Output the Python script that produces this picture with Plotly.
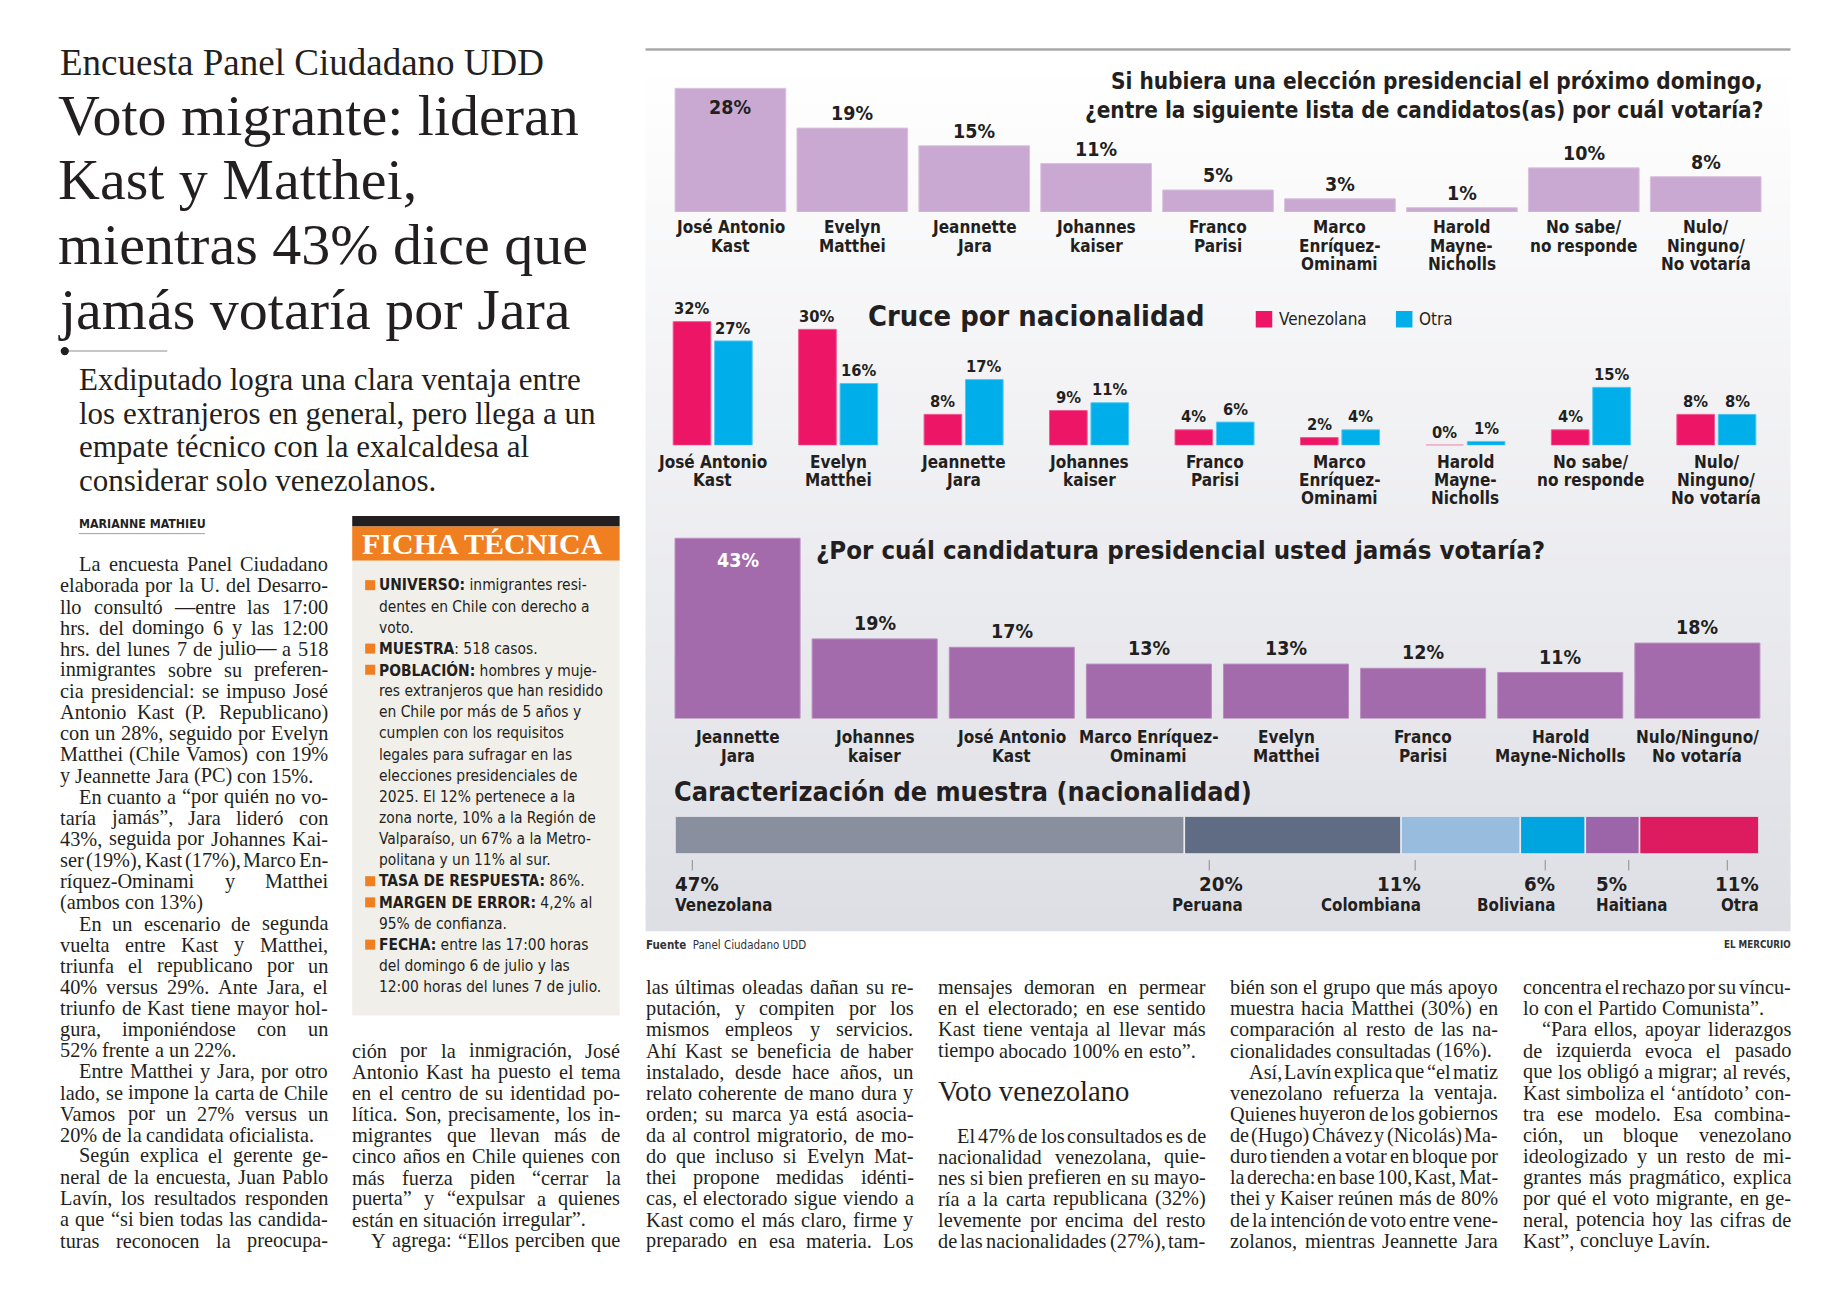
import unicodedata
import plotly.graph_objects as go
import numpy as np

W, H = 1848, 1300
S = 1.178   # reference layout measured on a 1569-wide grid
OFF = 8     # page body margin of the browser


def px(v):
    return v * S


def gx(o):
    return (o - OFF) / W


def gy(o):
    return 1 - (o - OFF) / H


def fx(v):
    return gx(px(v))


def fy(v):
    return gy(px(v))


SANS = "Liberation Sans Narrow, DejaVu Sans Condensed, Roboto Condensed, Roboto, sans-serif"
SERIF = "Liberation Serif, DejaVu Serif, serif"
INK = "#231f20"

# ---------------- data ----------------
vote_cats = ["José Antonio\nKast", "Evelyn\nMatthei", "Jeannette\nJara", "Johannes\nkaiser",
             "Franco\nParisi", "Marco\nEnríquez-\nOminami", "Harold\nMayne-\nNicholls",
             "No sabe/\nno responde", "Nulo/\nNinguno/\nNo votaría"]
vote_vals = [28, 19, 15, 11, 5, 3, 1, 10, 8]

nat_venez = [32, 30, 8, 9, 4, 2, 0, 4, 8]
nat_otra = [27, 16, 17, 11, 6, 4, 1, 15, 8]

never_cats = ["Jeannette\nJara", "Johannes\nkaiser", "José Antonio\nKast", "Marco Enríquez-\nOminami",
              "Evelyn\nMatthei", "Franco\nParisi", "Harold\nMayne-Nicholls", "Nulo/Ninguno/\nNo votaría"]
never_vals = [43, 19, 17, 13, 13, 12, 11, 18]

comp_cats = ["Venezolana", "Peruana", "Colombiana", "Boliviana", "Haitiana", "Otra"]
comp_vals = [47, 20, 11, 6, 5, 11]

# label placement for the composition bar (style, in % units of the bar axis)
comp_label_x = [0.0, 52.4, 68.8, 81.2, 85.0, 100.0]
comp_label_anchor = ["left", "right", "right", "right", "left", "right"]
comp_tick_x = [1.6, 49.3, 68.3, 80.3, 88.0, 97.1]
comp_colors = ["#8a8fa0", "#5f6c83", "#97bcdd", "#00a5df", "#9c65a9", "#dd1b5f"]

# ---------------- article text ----------------
kicker = "Encuesta Panel Ciudadano UDD"
headline = ["Voto migrante: lideran", "Kast y Matthei,", "mientras 43% dice que", "jamás votaría por Jara"]
deck = ["Exdiputado logra una clara ventaja entre", "los extranjeros en general, pero llega a un",
        "empate técnico con la exalcaldesa al", "considerar solo venezolanos."]
byline = "MARIANNE MATHIEU"

# ">" = paragraph indent, "#" = last line of paragraph (not justified)
col1 = [">La encuesta Panel Ciudadano", "elaborada por la U. del Desarro-", "llo consultó —entre las 17:00",
        "hrs. del domingo 6 y las 12:00", "hrs. del lunes 7 de julio— a 518", "inmigrantes sobre su preferen-",
        "cia presidencial: se impuso José", "Antonio Kast (P. Republicano)", "con un 28%, seguido por Evelyn",
        "Matthei (Chile Vamos) con 19%", "y Jeannette Jara (PC) con 15%.#", ">En cuanto a “por quién no vo-",
        "taría jamás”, Jara lideró con", "43%, seguida por Johannes Kai-", "ser (19%), Kast (17%), Marco En-",
        "ríquez-Ominami y Matthei", "(ambos con 13%)#", ">En un escenario de segunda",
        "vuelta entre Kast y Matthei,", "triunfa el republicano por un", "40% versus 29%. Ante Jara, el",
        "triunfo de Kast tiene mayor hol-", "gura, imponiéndose con un", "52% frente a un 22%.#",
        ">Entre Matthei y Jara, por otro", "lado, se impone la carta de Chile", "Vamos por un 27% versus un",
        "20% de la candidata oficialista.#", ">Según explica el gerente ge-", "neral de la encuesta, Juan Pablo",
        "Lavín, los resultados responden", "a que “si bien todas las candida-", "turas reconocen la preocupa-"]
col2 = ["ción por la inmigración, José", "Antonio Kast ha puesto el tema", "en el centro de su identidad po-",
        "lítica. Son, precisamente, los in-", "migrantes que llevan más de", "cinco años en Chile quienes con",
        "más fuerza piden “cerrar la", "puerta” y “expulsar a quienes", "están en situación irregular”.#",
        ">Y agrega: “Ellos perciben que"]
col3 = ["las últimas oleadas dañan su re-", "putación, y compiten por los", "mismos empleos y servicios.",
        "Ahí Kast se beneficia de haber", "instalado, desde hace años, un", "relato coherente de mano dura y",
        "orden; su marca ya está asocia-", "da al control migratorio, de mo-", "do que incluso si Evelyn Mat-",
        "thei propone medidas idénti-", "cas, el electorado sigue viendo a", "Kast como el más claro, firme y",
        "preparado en esa materia. Los"]
col4a = ["mensajes demoran en permear", "en el electorado; en ese sentido", "Kast tiene ventaja al llevar más",
         "tiempo abocado 100% en esto”.#"]
subhead4 = "Voto venezolano"
col4b = [">El 47% de los consultados es de", "nacionalidad venezolana, quie-", "nes si bien prefieren en su mayo-",
         "ría a la carta republicana (32%)", "levemente por encima del resto", "de las nacionalidades (27%), tam-"]
col5 = ["bién son el grupo que más apoyo", "muestra hacia Matthei (30%) en", "comparación al resto de las na-",
        "cionalidades consultadas (16%).#", ">Así, Lavín explica que “el matiz", "venezolano refuerza la ventaja.",
        "Quienes huyeron de los gobiernos", "de (Hugo) Chávez y (Nicolás) Ma-", "duro tienden a votar en bloque por",
        "la derecha: en base 100, Kast, Mat-", "thei y Kaiser reúnen más de 80%",
        "de la intención de voto entre vene-", "zolanos, mientras Jeannette Jara"]
col6 = ["concentra el rechazo por su víncu-", "lo con el Partido Comunista”.#", ">“Para ellos, apoyar liderazgos",
        "de izquierda evoca el pasado", "que los obligó a migrar; al revés,", "Kast simboliza el ‘antídoto’ con-",
        "tra ese modelo. Esa combina-", "ción, un bloque venezolano", "ideologizado y un resto de mi-",
        "grantes más pragmático, explica", "por qué el voto migrante, en ge-", "neral, potencia hoy las cifras de",
        "Kast”, concluye Lavín.#"]

ficha_title = "FICHA TÉCNICA"
ficha = [("UNIVERSO:", " inmigrantes resi-"), ("", "dentes en Chile con derecho a"), ("", "voto."),
         ("MUESTRA", ": 518 casos."),
         ("POBLACIÓN:", " hombres y muje-"), ("", "res extranjeros que han residido"),
         ("", "en Chile por más de 5 años y"), ("", "cumplen con los requisitos"),
         ("", "legales para sufragar en las"), ("", "elecciones presidenciales de"),
         ("", "2025. El 12% pertenece a la"), ("", "zona norte, 10% a la Región de"),
         ("", "Valparaíso, un 67% a la Metro-"), ("", "politana y un 11% al sur."),
         ("TASA DE RESPUESTA:", " 86%."),
         ("MARGEN DE ERROR:", " 4,2% al"), ("", "95% de confianza."),
         ("FECHA:", " entre las 17:00 horas"), ("", "del domingo 6 de julio y las"),
         ("", "12:00 horas del lunes 7 de julio.")]

title1 = ["Si hubiera una elección presidencial el próximo domingo,",
          "¿entre la siguiente lista de candidatos(as) por cuál votaría?"]
title2 = "Cruce por nacionalidad"
title3 = "¿Por cuál candidatura presidencial usted jamás votaría?"
title4 = "Caracterización de muestra (nacionalidad)"
legend_names = ["Venezolana", "Otra"]

# ---------------- helpers ----------------
ann = []
shapes = []


def T(x, y, s, size, family=SANS, color=INK, weight="normal", xa="left", ya="middle",
      xref="paper", yref="paper", xshift=0, yshift=0):
    ann.append(dict(x=x, y=y, text=s, xref=xref, yref=yref, xanchor=xa, yanchor=ya,
                    align=xa, showarrow=False, borderpad=0, borderwidth=0, xshift=xshift, yshift=yshift,
                    font=dict(family=family, size=size, color=color, weight=weight)))


def rect(x0, y0, x1, y1, color, layer="below"):
    shapes.append(dict(type="rect", xref="paper", yref="paper", x0=fx(x0), x1=fx(x1),
                       y0=fy(y1), y1=fy(y0), fillcolor=color, line_width=0, layer=layer))


# Times / Liberation Serif advance widths (per 1000 em) for justification
TW = {" ": 250, "!": 333, "%": 833, "(": 333, ")": 333, ",": 250, "-": 333, ".": 250, "/": 278,
      ":": 278, ";": 278, "?": 444, "“": 444, "”": 444, "‘": 333, "’": 333, "—": 1000, "–": 500,
      "A": 722, "B": 667, "C": 667, "D": 722, "E": 611, "F": 556, "G": 722, "H": 722, "I": 333,
      "J": 389, "K": 722, "L": 611, "M": 889, "N": 722, "O": 722, "P": 556, "Q": 722, "R": 667,
      "S": 556, "T": 611, "U": 722, "V": 722, "W": 944, "X": 722, "Y": 722, "Z": 611,
      "a": 444, "b": 500, "c": 444, "d": 500, "e": 444, "f": 333, "g": 500, "h": 500, "i": 278,
      "j": 278, "k": 500, "l": 278, "m": 778, "n": 500, "o": 500, "p": 500, "q": 500, "r": 333,
      "s": 389, "t": 278, "u": 500, "v": 500, "w": 722, "x": 500, "y": 500, "z": 444}
for d in "0123456789":
    TW[d] = 500


def tw(s):
    tot = 0
    for ch in s:
        if ch in TW:
            tot += TW[ch]
        else:
            tot += TW.get(unicodedata.normalize("NFD", ch)[0], 500)
    return tot / 1000.0


COLW = 227.5
BODY = 20.3


def column(lines, x0, y0, step=17.94, size=BODY):
    for i, raw in enumerate(lines):
        ind = raw.startswith(">")
        last = raw.endswith("#")
        line = raw.strip(">#")
        words = line.split(" ")
        left = px(x0 + (16 if ind else 0))
        right = px(x0 + COLW)
        avail = right - left
        sz = size
        sp = tw(" ") * sz
        ws = [tw(w) * sz for w in words]
        if last or len(words) == 1:
            gap = sp
        else:
            gap = (avail - sum(ws)) / (len(words) - 1)
            if gap < 0.45 * sp:
                sz = avail / (sum(tw(w) for w in words) + (len(words) - 1) * 0.45 * tw(" "))
                ws = [tw(w) * sz for w in words]
                gap = 0.45 * tw(" ") * sz
        x = left
        y = gy(px(y0 + i * step))
        for w, wd in zip(words, ws):
            T(gx(x), y, w, sz, SERIF)
            x += wd + gap


# ---------------- background panel ----------------
n = 70
top, bot = 45, 790
c0 = np.array([255, 255, 255])
c1 = np.array([222, 223, 229])
for i in range(n):
    t = i / (n - 1)
    c = c0 + (c1 - c0) * t
    ya = top + (bot - top) * i / n
    yb = top + (bot - top) * (i + 1) / n + 0.6
    rect(548, ya, 1520, yb, f"rgb({c[0]:.0f},{c[1]:.0f},{c[2]:.0f})")
shapes.append(dict(type="line", xref="paper", yref="paper", x0=fx(548), x1=fx(1520),
                   y0=fy(42), y1=fy(42), line=dict(color="#a8a8a8", width=2.5)))

fig = go.Figure()

# ---------------- chart 1 ----------------
fig.add_trace(go.Bar(x=list(range(len(vote_vals))), y=vote_vals, width=0.908,
                     marker=dict(color="#c9a9d1", line=dict(color="#d9c2de", width=1)),
                     xaxis="x", yaxis="y", hoverinfo="skip"))
vmax = max(vote_vals)
for i, v in enumerate(vote_vals):
    T(i, v, f"{v}%", 19.5, weight="bold", xa="center", xref="x", yref="y",
      yshift=-px(16) if v == vmax else px(12))
    for j, line in enumerate(vote_cats[i].split("\n")):
        T(i, 0, line, 17, weight="bold", xa="center", xref="x", yref="y", yshift=-px(13 + j * 15.5))
T(fx(1497), fy(69), title1[0], 22.4, weight="bold", xa="right")
T(fx(1497), fy(93), title1[1], 22.4, weight="bold", xa="right")

# ---------------- chart 2 ----------------
fig.add_trace(go.Bar(x=list(range(len(nat_venez))), y=nat_venez, width=0.30, offset=-0.315,
                     marker=dict(color="#ec1566", line=dict(color="#f25a92", width=1)),
                     xaxis="x2", yaxis="y2", hoverinfo="skip"))
fig.add_trace(go.Bar(x=list(range(len(nat_otra))), y=nat_otra, width=0.30, offset=0.015,
                     marker=dict(color="#00aeea", line=dict(color="#55c8f0", width=1)),
                     xaxis="x2", yaxis="y2", hoverinfo="skip"))
for i in range(len(nat_venez)):
    T(i - 0.165, nat_venez[i], f"{nat_venez[i]}%", 16.4, weight="bold", xa="center",
      xref="x2", yref="y2", yshift=px(11))
    T(i + 0.165, nat_otra[i], f"{nat_otra[i]}%", 16.4, weight="bold", xa="center",
      xref="x2", yref="y2", yshift=px(11))
    for j, line in enumerate(vote_cats[i].split("\n")):
        T(i, 0, line, 17, weight="bold", xa="center", xref="x2", yref="y2", yshift=-px(14 + j * 15.5))
T(fx(737), fy(268), title2, 28.8, weight="bold")
rect(1066, 264, 1080, 278, "#ec1566", layer="above")
T(fx(1086), fy(271), legend_names[0], 17)
rect(1185, 264, 1199, 278, "#00aeea", layer="above")
T(fx(1205), fy(271), legend_names[1], 17)

# ---------------- chart 3 ----------------
fig.add_trace(go.Bar(x=list(range(len(never_vals))), y=never_vals, width=0.912,
                     marker=dict(color="#a46bac", line=dict(color="#b98cbf", width=1)),
                     xaxis="x3", yaxis="y3", hoverinfo="skip"))
nmax = max(never_vals)
for i, v in enumerate(never_vals):
    if v == nmax:
        T(i, v, f"{v}%", 19.5, weight="bold", color="white", xa="center", xref="x3", yref="y3", yshift=-px(19))
    else:
        T(i, v, f"{v}%", 19.5, weight="bold", xa="center", xref="x3", yref="y3", yshift=px(13))
    for j, line in enumerate(never_cats[i].split("\n")):
        T(i, 0, line, 17, weight="bold", xa="center", xref="x3", yref="y3", yshift=-px(16 + j * 16))
T(fx(693), fy(467), title3, 25.6, weight="bold")

# ---------------- chart 4 ----------------
bases = np.cumsum([0] + comp_vals[:-1])
fig.add_trace(go.Bar(orientation="h", x=comp_vals, base=bases, y=[0] * len(comp_vals), width=1,
                     marker=dict(color=comp_colors, line=dict(color="#e9e9ee", width=1.5)),
                     xaxis="x4", yaxis="y4", hoverinfo="skip"))
for i, (cat, v) in enumerate(zip(comp_cats, comp_vals)):
    shapes.append(dict(type="line", xref="x4", yref="paper", x0=comp_tick_x[i], x1=comp_tick_x[i],
                       y0=fy(739), y1=fy(730), line=dict(color="#9a9a9a", width=1.2)))
    T(comp_label_x[i], fy(750), f"{v}%", 20.3, weight="bold", xa=comp_label_anchor[i], xref="x4")
    T(comp_label_x[i], fy(768), cat, 16.8, weight="bold", xa=comp_label_anchor[i], xref="x4")
T(fx(572), fy(672), title4, 26.8, weight="bold")

# source lines
T(fx(548), fy(802), "<b>Fuente</b>  Panel Ciudadano UDD", 11.5, color="#333")
T(fx(1520), fy(802), "EL MERCURIO", 9.7, color="#333", weight="bold", xa="right")

# ---------------- left headline block ----------------
T(fx(51), fy(53), kicker, 37, SERIF)
for i, line in enumerate(headline):
    T(fx(49), fy(98 + i * 54.8), line, 58, SERIF)
shapes.append(dict(type="line", xref="paper", yref="paper", x0=fx(55), x1=fx(142), y0=fy(298), y1=fy(298),
                   line=dict(color="#b5b5b5", width=1.5)))
shapes.append(dict(type="circle", xref="paper", yref="paper", x0=fx(51.5), x1=fx(58.5), y0=fy(301.5),
                   y1=fy(294.5), fillcolor=INK, line_width=0))
for i, line in enumerate(deck):
    T(fx(67), fy(322 + i * 28.7), line, 31, SERIF)
T(fx(67), fy(445), byline, 12.3, weight="bold")
shapes.append(dict(type="line", xref="paper", yref="paper", x0=fx(67), x1=fx(174), y0=fy(453), y1=fy(453),
                   line=dict(color="#a0a0a0", width=1)))

# ---------------- ficha técnica ----------------
rect(299, 438, 526, 447, "#231f20")
rect(299, 447, 526, 476, "#f07f22")
rect(299, 476, 526, 862, "#f1efea")
T(fx(307), fy(461.5), ficha_title, 30, SERIF, color="white", weight="bold")
for i, (lab, rest) in enumerate(ficha):
    yy = 497 + i * 17.95
    if lab:
        rect(310, yy - 4.5, 318.5, yy + 4, "#f07f22", layer="above")
        T(fx(322), fy(yy), f"<b>{lab}</b>{rest}", 15.4)
    else:
        T(fx(322), fy(yy), rest, 15.4)

# ---------------- body columns ----------------
column(col1, 51, 479)
column(col2, 299, 892)
column(col3, 548, 838)
column(col4a, 796, 838)
T(fx(796), fy(926), subhead4, 28.7, SERIF)
column(col4b, 796, 964)
column(col5, 1044, 838)
column(col6, 1293, 838)

# ---------------- layout ----------------
def xdom(a, b):
    return [fx(a), fx(b)]


def ydom(base, top_):
    return [fy(base), fy(top_)]


hidden = dict(visible=False, fixedrange=True)
fig.update_layout(
    width=W, height=H, margin=dict(l=0, r=0, t=0, b=0),
    paper_bgcolor="white", plot_bgcolor="rgba(0,0,0,0)",
    showlegend=False, barmode="overlay",
    xaxis=dict(domain=xdom(568.3, 1499.7), range=[-0.5, 8.5], **hidden),
    yaxis=dict(domain=ydom(180, 180 - 3.75 * 30), range=[0, 30], **hidden),
    xaxis2=dict(domain=xdom(551.75, 1510.25), range=[-0.5, 8.5], **hidden),
    yaxis2=dict(domain=ydom(378, 378 - 3.28 * 35), range=[0, 35], **hidden),
    xaxis3=dict(domain=xdom(567.9, 1499.1), range=[-0.5, 7.5], **hidden),
    yaxis3=dict(domain=ydom(610, 610 - 3.56 * 45), range=[0, 45], **hidden),
    xaxis4=dict(domain=xdom(573, 1493), range=[0, 100], **hidden),
    yaxis4=dict(domain=ydom(725, 693), range=[-0.5, 0.5], **hidden),
    annotations=ann, shapes=shapes,
)

fig.write_html("out.html")
